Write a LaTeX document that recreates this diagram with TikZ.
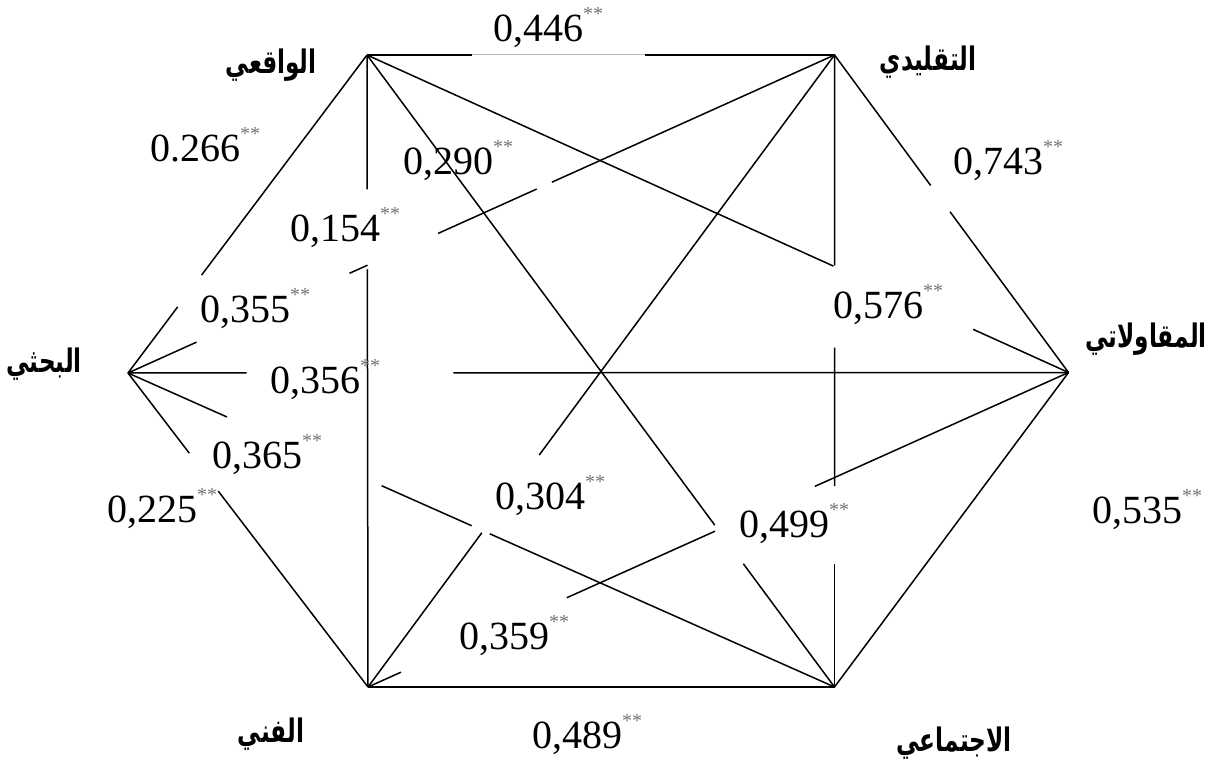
\documentclass[tikz,border=0pt]{standalone}
\usepackage{fontspec}
\setmainfont{Liberation Serif}
\newfontfamily\arabicfont[Script=Arabic]{DejaVu Sans}
\TeXXeTstate=1
\usetikzlibrary{calc}
\definecolor{stargray}{RGB}{115,115,115}
\definecolor{boxgray}{RGB}{185,185,185}
\newcommand\corr[1]{#1\raisebox{21pt}{\fontsize{20}{20}\selectfont\color{stargray}**}}
\newcommand\arlab[1]{\scalebox{0.86}[1.2]{\beginR #1\endR}}
\newcommand\seg[5][edge]{\draw[#1] ($(#2)!#4!(#3)$) -- ($(#2)!#5!(#3)$);}
\begin{document}
\begin{tikzpicture}[x=1pt,y=-1pt,
  edge/.style={line width=1.5pt},
  thinbox/.style={line width=1pt, draw=boxgray},
  num/.style={inner sep=0pt, anchor=base west, font=\fontsize{40}{40}\selectfont},
  ar/.style={inner sep=0pt, anchor=base, font=\fontsize{27}{30}\selectfont\arabicfont\bfseries}]
\useasboundingbox (0,0) rectangle (1208,762);
% vertices
\coordinate (R) at (367,55);
\coordinate (C) at (834.5,55);
\coordinate (E) at (1068.5,372.5);
\coordinate (S) at (834.5,687);
\coordinate (A) at (368,687);
\coordinate (I) at (128,373);
% hexagon sides
\seg{R}{C}{0}{0.224}
\seg[thinbox]{R}{C}{0.224}{0.595}
\seg{R}{C}{0.595}{1}
\seg{C}{E}{0}{0.411}
\seg{C}{E}{0.494}{1}
\seg{E}{S}{0}{1}
\seg{S}{A}{0}{1}
\seg{I}{A}{0}{0.255}
\seg{I}{A}{0.376}{1}
\seg{I}{R}{0}{0.208}
\seg{I}{R}{0.308}{1}
% diagonals
\seg{R}{A}{0}{0.2125}
\seg{R}{A}{0.339}{1}
\seg{R}{S}{0}{0.744}
\seg{R}{S}{0.805}{1}
\seg{R}{E}{0}{0.665}
\seg{R}{E}{0.864}{1}
\seg{C}{S}{0}{0.333}
\seg{C}{S}{0.463}{0.682}
\seg{C}{S}{0.805}{1}
\seg{C}{A}{0}{0.633}
\seg{C}{A}{0.756}{1}
\seg{C}{I}{0}{0.400}
\seg{C}{I}{0.4215}{0.561}
\seg{C}{I}{0.661}{0.6865}
\seg{C}{I}{0.903}{1}
\seg{I}{E}{0}{0.126}
\seg{I}{E}{0.346}{1}
\seg{I}{S}{0}{0.140}
\seg{I}{S}{0.359}{0.4865}
\seg{I}{S}{0.512}{1}
\seg{E}{A}{0}{0.362}
\seg{E}{A}{0.5046}{0.7163}
\seg{E}{A}{0.9529}{1}
% correlation values
\node[num] (v446) at (493,42) {\corr{0,446}};
\node[num] (v266) at (150,162) {\corr{0.266}};
\node[num] (v290) at (403,175) {\corr{0,290}};
\node[num] (v154) at (290,242) {\corr{0,154}};
\node[num] (v355) at (200,323) {\corr{0,355}};
\node[num] (v356) at (270,393) {\corr{0,356}};
\node[num] (v365) at (212,468) {\corr{0,365}};
\node[num] (v225) at (107,522) {\corr{0,225}};
\node[num] (v304) at (495,509) {\corr{0,304}};
\node[num] (v359) at (459,649) {\corr{0,359}};
\node[num] (v499) at (739,537) {\corr{0,499}};
\node[num] (v576) at (833,319) {\corr{0,576}};
\node[num] (v743) at (953,175) {\corr{0,743}};
\node[num] (v535) at (1092,523) {\corr{0,535}};
\node[num] (v489) at (532,748) {\corr{0,489}};
% type names
\node[ar] (nR) at (271,74) {\arlab{الواقعي}};
\node[ar] (nC) at (928,71) {\arlab{التقليدي}};
\node[ar] (nE) at (1146,347) {\arlab{المقاولاتي}};
\node[ar] (nI) at (44,372) {\arlab{البحثي}};
\node[ar] (nA) at (271,742) {\arlab{الفني}};
\node[ar] (nS) at (954,751) {\arlab{الاجتماعي}};
\end{tikzpicture}
\end{document}
